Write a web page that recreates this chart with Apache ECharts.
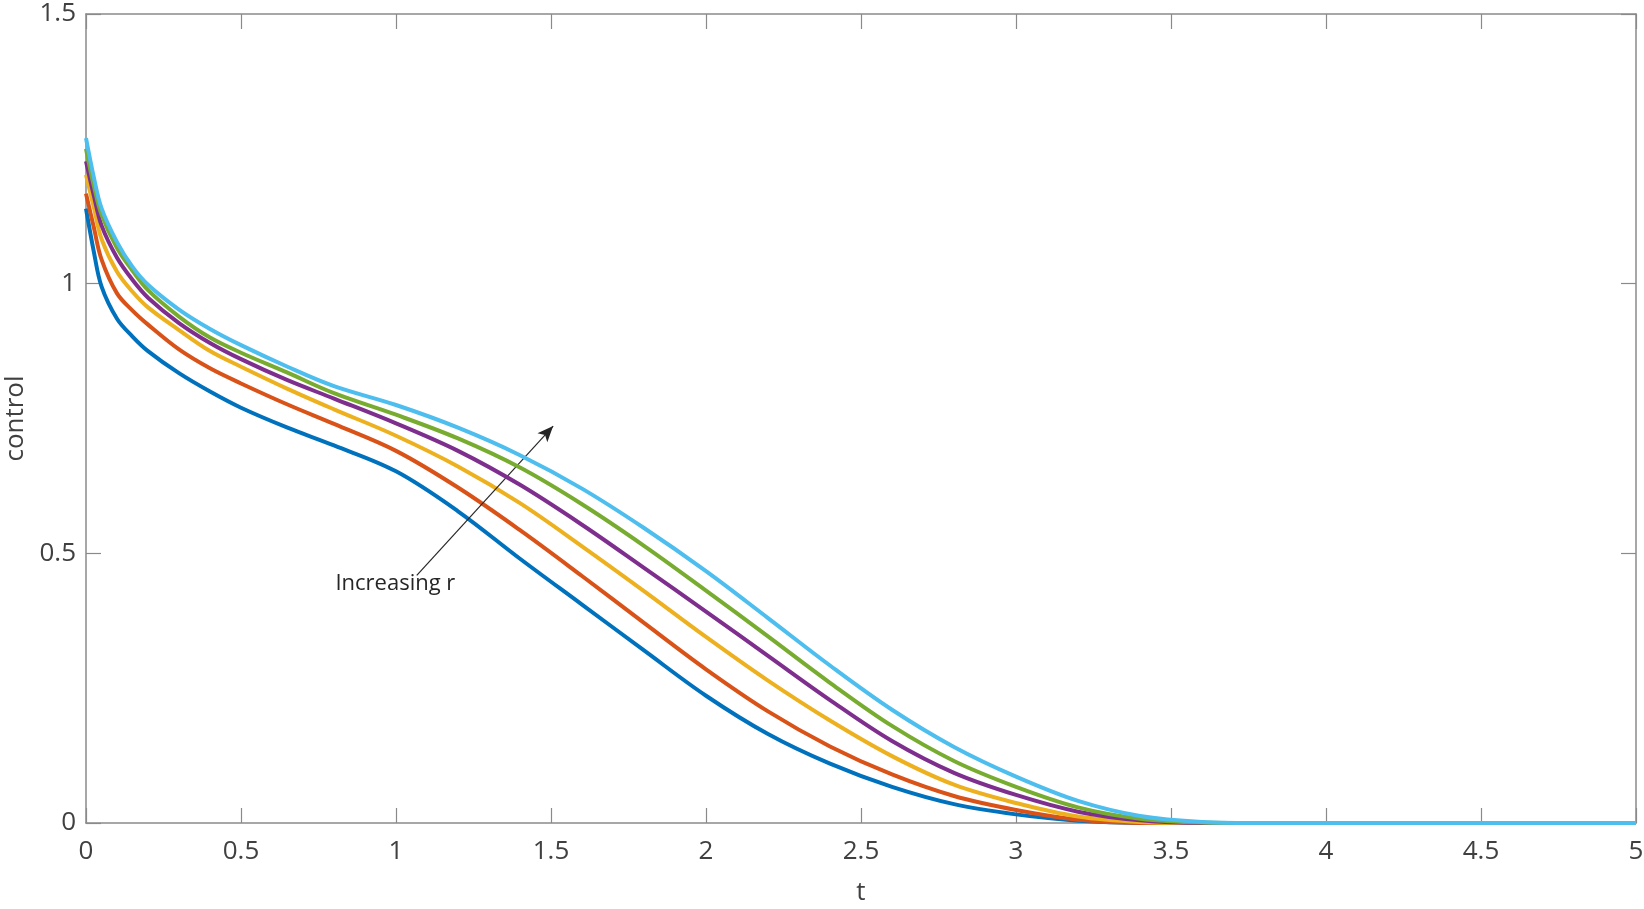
<!DOCTYPE html>
<html>
<head>
<meta charset="utf-8">
<script src="https://cdn.jsdelivr.net/npm/echarts@6/dist/echarts.min.js"></script>
<style>
  html, body { margin: 0; padding: 0; background: #fff; }
  #main { width: 1644px; height: 909px; }
</style>
</head>
<body>
<div id="main"></div>
<script>
// time samples
var tVals = [0, 0.025, 0.05, 0.1, 0.15, 0.2, 0.3, 0.4, 0.5, 0.65, 0.8, 1.0, 1.2, 1.4, 1.6, 1.8, 2.0, 2.2, 2.4, 2.6, 2.8, 3.0, 3.2, 3.4, 3.6, 3.8, 4.0, 4.5, 5.0];

// control curves, r increasing from r1 to r6
var r1 = [1.139, 1.060, 0.995, 0.935, 0.902, 0.875, 0.834, 0.800, 0.770, 0.733, 0.700, 0.652, 0.578, 0.490, 0.405, 0.320, 0.236, 0.165, 0.110, 0.067, 0.035, 0.016, 0.004, 0, 0, 0, 0, 0, 0];
var r2 = [1.167, 1.105, 1.045, 0.982, 0.950, 0.924, 0.878, 0.843, 0.815, 0.776, 0.740, 0.690, 0.622, 0.543, 0.458, 0.371, 0.285, 0.207, 0.142, 0.090, 0.050, 0.024, 0.006, 0, 0, 0, 0, 0, 0];
var r3 = [1.202, 1.142, 1.083, 1.022, 0.985, 0.956, 0.914, 0.875, 0.846, 0.805, 0.767, 0.718, 0.661, 0.593, 0.513, 0.430, 0.345, 0.264, 0.190, 0.124, 0.071, 0.037, 0.012, 0.002, 0, 0, 0, 0, 0];
var r4 = [1.227, 1.164, 1.108, 1.048, 1.007, 0.974, 0.927, 0.890, 0.860, 0.821, 0.787, 0.741, 0.690, 0.627, 0.553, 0.473, 0.392, 0.310, 0.228, 0.152, 0.093, 0.052, 0.021, 0.005, 0, 0, 0, 0, 0];
var r5 = [1.250, 1.182, 1.128, 1.066, 1.024, 0.988, 0.939, 0.900, 0.872, 0.835, 0.797, 0.757, 0.713, 0.659, 0.591, 0.514, 0.431, 0.346, 0.260, 0.180, 0.115, 0.067, 0.029, 0.008, 0.001, 0, 0, 0, 0];
var r6 = [1.270, 1.198, 1.140, 1.077, 1.031, 0.998, 0.952, 0.916, 0.886, 0.846, 0.810, 0.775, 0.733, 0.682, 0.620, 0.547, 0.467, 0.380, 0.292, 0.210, 0.141, 0.086, 0.041, 0.013, 0.002, 0, 0, 0, 0];

var curves = [r1, r2, r3, r4, r5, r6];
var colors = ['#0072BD', '#D95319', '#EDB120', '#7E2F8E', '#77AC30', '#4DBEEE'];

// annotation arrow (data coords)
var arrowFrom = [1.067, 0.459];
var arrowTo = [1.507, 0.736];
var annoText = 'Increasing r';
var annoPos = [0.998, 0.443];

var axisCol = '#8a8a8a';
var textCol = '#404040';
var font = 'Open Sans';

var myChart = echarts.init(document.getElementById('main'));

var series = curves.map(function (c, i) {
  return {
    type: 'line',
    data: tVals.map(function (t, k) { return [t, c[k]]; }),
    symbol: 'none',
    smooth: 0.35,
    lineStyle: { color: colors[i], width: 4 },
    itemStyle: { color: colors[i] },
    z: 2 + i
  };
});

series[0].markLine = {
  silent: true,
  symbol: ['none', 'arrow'],
  symbolSize: [10, 16],
  label: { show: false },
  lineStyle: { color: '#262626', width: 1.2, type: 'solid' },
  data: [[{ coord: arrowFrom }, { coord: arrowTo }]]
};

function tickAxis(pos, showLabel, isX) {
  return {
    type: 'value',
    position: pos,
    min: 0,
    max: isX ? 5 : 1.5,
    interval: 0.5,
    axisLine: { show: true, onZero: false, lineStyle: { color: axisCol, width: 1.5 } },
    axisTick: { show: true, inside: true, length: 15, lineStyle: { color: axisCol, width: 1.2 } },
    splitLine: { show: false },
    axisLabel: {
      show: showLabel,
      color: textCol,
      fontFamily: font,
      fontSize: 26,
      margin: isX ? 16 : 10,
      formatter: function (v) { return String(v); }
    }
  };
}

var xBottom = tickAxis('bottom', true, true);
xBottom.name = 't';
xBottom.nameLocation = 'middle';
xBottom.nameGap = 57;
xBottom.nameTextStyle = { color: textCol, fontFamily: font, fontSize: 26 };

var yLeft = tickAxis('left', true, false);
yLeft.name = 'control';
yLeft.nameLocation = 'middle';
yLeft.nameGap = 52;
yLeft.nameTextStyle = { color: textCol, fontFamily: font, fontSize: 26 };

var option = {
  animation: false,
  backgroundColor: '#ffffff',
  grid: { left: 86, right: 8, top: 14, bottom: 86, containLabel: false, outerBoundsMode: 'none' },
  xAxis: [xBottom, tickAxis('top', false, true)],
  yAxis: [yLeft, tickAxis('right', false, false)],
  series: series
};

myChart.setOption(option);

var p = myChart.convertToPixel({ xAxisIndex: 0, yAxisIndex: 0 }, annoPos);
myChart.setOption({
  graphic: [{
    type: 'text',
    x: p[0],
    y: p[1],
    style: {
      text: annoText,
      fill: '#262626',
      font: '22px "Open Sans"',
      align: 'center',
      verticalAlign: 'middle'
    },
    z: 100
  }]
});
</script>
</body>
</html>
